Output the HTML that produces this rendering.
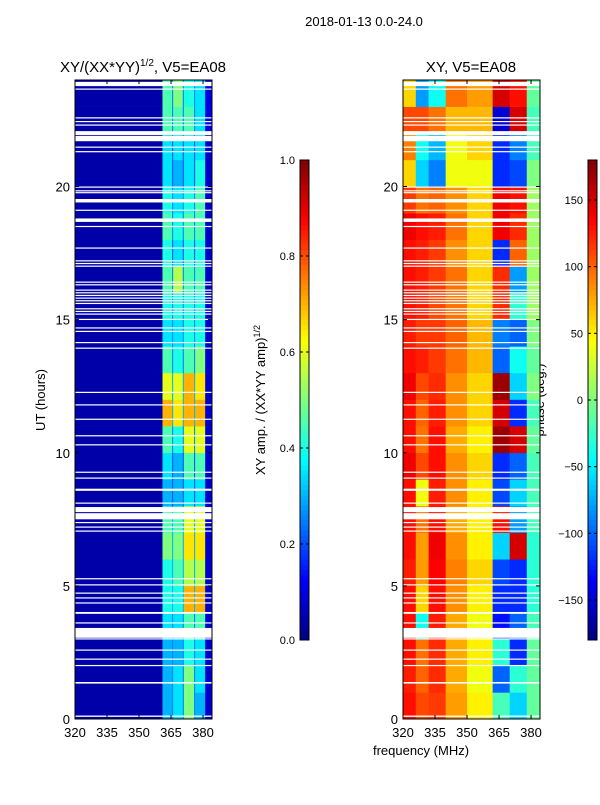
<!DOCTYPE html>
<html><head><meta charset="utf-8"><style>
body{margin:0;background:#fff}
svg text{font-family:"Liberation Sans","DejaVu Sans",sans-serif;fill:#000}
</style></head><body>
<svg id="fig" width="600" height="800" viewBox="0 0 600 800" xmlns="http://www.w3.org/2000/svg">
<text x="364" y="26" font-size="13" text-anchor="middle">2018-01-13 0.0-24.0</text>
<text x="143" y="72" font-size="15" text-anchor="middle">XY/(XX*YY)<tspan font-size="10" dy="-6">1/2</tspan><tspan dy="6">, V5=EA08</tspan></text>
<text x="471" y="72" font-size="15" text-anchor="middle">XY, V5=EA08</text>
<text transform="translate(45,400) rotate(-90)" font-size="13" text-anchor="middle">UT (hours)</text>
<text transform="translate(265,400) rotate(-90)" font-size="13" text-anchor="middle">XY amp. / (XX*YY amp)<tspan font-size="9" dy="-5">1/2</tspan></text>
<text transform="translate(544,400) rotate(-90)" font-size="13" text-anchor="middle">phase (deg.)</text>
<text x="421" y="755" font-size="13" text-anchor="middle">frequency (MHz)</text>
<g id="g"></g>
</svg>
<script>
// ---- data ----
const hours = [0,1,2,3,4,5,6,7,8,9,10,11,12,13,14,15,16,17,18,19,20,21,22,23];
const ampFreqEdges = [320,361,365.5,366,370.5,371,375.8,376.3,381,384.2];
const ampRows = [
[.04,.3,.25,.35,.25,.5,.25,.3,.08],
[.04,.3,.25,.35,.25,.5,.25,.35,.08],
[.04,.3,.25,.3,.25,.4,.25,.35,.08],
[.04,.35,.25,.35,.25,.45,.25,.45,.08],
[.04,.4,.3,.4,.3,.7,.3,.7,.08],
[.04,.4,.3,.45,.3,.55,.3,.55,.08],
[.04,.5,.3,.5,.3,.65,.3,.65,.08],
[.04,.45,.3,.45,.3,.6,.3,.6,.08],
[.04,.3,.2,.3,.2,.35,.2,.35,.08],
[.04,.35,.2,.3,.2,.45,.2,.45,.08],
[.04,.45,.25,.4,.25,.6,.25,.6,.08],
[.04,.7,.3,.65,.3,.7,.3,.7,.08],
[.04,.6,.3,.6,.3,.7,.3,.65,.08],
[.04,.45,.25,.4,.25,.45,.25,.5,.08],
[.04,.35,.25,.35,.25,.4,.25,.4,.08],
[.04,.4,.25,.4,.25,.4,.25,.4,.08],
[.04,.45,.25,.55,.25,.45,.25,.45,.08],
[.04,.4,.2,.35,.2,.4,.2,.4,.08],
[.04,.45,.25,.4,.25,.45,.25,.45,.08],
[.04,.4,.25,.35,.25,.4,.25,.45,.08],
[.04,.35,.2,.3,.2,.35,.2,.4,.08],
[.04,.35,.2,.35,.2,.35,.2,.35,.08],
[.04,.45,.25,.45,.25,.45,.25,.35,.1],
[.04,.45,.25,.5,.25,.4,.25,.35,.1]];
const phaseFreqEdges = [320,326,332,340,350,362,370,378,384.2];
const phaseRows = [
[130,110,115,80,50,-20,-60,-10],
[125,100,120,75,40,-100,-30,-10],
[130,95,120,75,50,-30,-120,-10],
[130,-40,125,75,40,-130,-100,-20],
[130,60,130,85,50,-120,-120,-30],
[125,80,135,90,60,-110,-120,-30],
[130,80,140,85,50,-60,150,-30],
[130,95,130,75,50,130,-80,-20],
[130,40,125,85,50,-110,-60,-20],
[140,110,130,85,60,-120,-100,-20],
[130,95,130,75,50,170,150,-10],
[130,100,125,85,60,150,-120,-20],
[140,110,120,85,60,170,-60,0],
[130,125,115,95,70,-100,-40,-10],
[125,115,115,100,70,-90,-100,0],
[130,125,110,95,60,120,-30,10],
[130,125,115,95,60,120,-80,10],
[130,125,115,85,60,-120,100,10],
[140,130,125,95,60,140,120,10],
[115,95,100,85,60,140,130,10],
[60,-60,-90,40,40,-120,-110,0],
[90,-40,-70,40,60,-120,-90,-20],
[110,110,95,70,70,-150,150,-20],
[60,-80,-40,95,80,150,130,-10]];
const flagged = [[0.08,0.13],[1.33,1.39],[2.0,2.03],[2.24,2.27],[2.58,2.61],[3.0,3.03],[3.05,3.42],[3.6,3.63],[3.95,4.02],[4.35,4.38],[4.54,4.57],[4.72,4.75],[5.03,5.06],[5.26,5.29],[7.05,7.08],[7.2,7.23],[7.37,7.4],[7.5,7.73],[7.77,7.96],[8.1,8.13],[8.57,8.65],[9.04,9.07],[9.26,9.29],[10.29,10.32],[10.63,10.66],[11.25,11.28],[11.79,11.82],[12.26,12.29],[13.92,13.95],[14.13,14.16],[14.55,14.58],[14.68,14.71],[15.0,15.03],[15.2,15.23],[15.3,15.33],[15.4,15.43],[15.6,15.63],[15.7,15.73],[15.8,15.83],[15.9,15.93],[16.0,16.03],[16.1,16.13],[16.3,16.33],[16.4,16.43],[17.0,17.03],[17.1,17.13],[17.2,17.23],[17.68,17.71],[18.49,18.52],[18.67,18.8],[19.1,19.13],[19.4,19.53],[19.76,19.79],[19.83,19.86],[19.97,20.0],[21.3,21.33],[21.47,21.5],[21.7,21.9],[21.93,22.08],[22.3,22.33],[22.43,22.46],[22.57,22.6],[23.65,23.68],[23.77,23.93]];
const xTicks = [320,335,350,365,380];
const yTicks = [0,5,10,15,20];
const ampTicks = [0.0,0.2,0.4,0.6,0.8,1.0];
const phaseTicks = [-150,-100,-50,0,50,100,150];

// ---- helpers ----
const NS="http://www.w3.org/2000/svg";
const G=document.getElementById('g');
function el(t,a,p){const e=document.createElementNS(NS,t);for(const k in a)e.setAttribute(k,a[k]);(p||G).appendChild(e);return e;}
function cl(v){return Math.max(0,Math.min(1,v));}
function jet(x){x=cl(x);const r=cl(1.5-Math.abs(4*x-3)),g=cl(1.5-Math.abs(4*x-2)),b=cl(1.5-Math.abs(4*x-1));return `rgb(${Math.round(r*255)},${Math.round(g*255)},${Math.round(b*255)})`;}
const yTop=80,yBot=719;
function yS(h){return yBot-(h/24)*(yBot-yTop);}
function xS(x0){return f=>x0+(f-320)*(137/64.2);}
const panels=[{x0:75,edges:ampFreqEdges,rows:ampRows,norm:v=>v,name:'amp'},{x0:403,edges:phaseFreqEdges,rows:phaseRows,norm:v=>(v+180)/360,name:'phase'}];
panels.forEach(p=>{
  const xs=xS(p.x0);
  const grp=el('g',{});
  
  
  hours.forEach((h,i)=>{
    p.rows[i].forEach((v,j)=>{
      const x1=xs(p.edges[j]),x2=xs(p.edges[j+1]);
      const r=el('rect',{x:x1,y:yS(h+1),width:x2-x1+0.3,height:yS(h)-yS(h+1)+0.3,fill:jet(p.norm(v))},grp);
      
      
    });
  });
  flagged.forEach(fl=>{
    const r=el('rect',{x:p.x0,y:yS(fl[1]),width:137,height:Math.max(1.2,yS(fl[0])-yS(fl[1])),fill:'#fff'},grp);
    
    
  });
  const fr=el('rect',{x:p.x0,y:yTop,width:137,height:yBot-yTop,fill:'none',stroke:'#000','stroke-width':1});
  
  
  xTicks.forEach(t=>{
    const x=xs(t);
    el('line',{x1:x,x2:x,y1:yBot,y2:yBot-4,stroke:'#000'});
    el('line',{x1:x,x2:x,y1:yTop,y2:yTop+4,stroke:'#000'});
    const tx=el('text',{x:x,y:737,'font-size':13,'text-anchor':'middle'});
    tx.textContent=t;
    
    
  });
  yTicks.forEach(t=>{
    const y=yS(t);
    el('line',{x1:p.x0,x2:p.x0+4,y1:y,y2:y,stroke:'#000'});
    el('line',{x1:p.x0+137,x2:p.x0+133,y1:y,y2:y,stroke:'#000'});
    const tx=el('text',{x:p.x0-5,y:y+5,'font-size':13,'text-anchor':'end'});
    tx.textContent=t;
    
    
  });
});
// colorbars
const cbs=[{x:300,ticks:ampTicks,lo:0,hi:1,name:'amp-colorbar',fmt:v=>v.toFixed(1)},{x:588,ticks:phaseTicks,lo:-180,hi:180,name:'phase-colorbar',fmt:v=>v<0?'\u2212'+(-v):''+v}];
const cbTop=160,cbBot=640;
cbs.forEach(c=>{
  const grp=el('g',{});
  
  
  const n=96;
  for(let i=0;i<n;i++){
    const y=cbBot-(i+1)*(cbBot-cbTop)/n;
    el('rect',{x:c.x,y:y,width:9,height:(cbBot-cbTop)/n+0.4,fill:jet((i+0.5)/n)},grp);
  }
  el('rect',{x:c.x,y:cbTop,width:9,height:cbBot-cbTop,fill:'none',stroke:'#000'},grp);
  c.ticks.forEach(t=>{
    const y=cbBot-(t-c.lo)/(c.hi-c.lo)*(cbBot-cbTop);
    el('line',{x1:c.x,x2:c.x+3,y1:y,y2:y,stroke:'#000'},grp);
    el('line',{x1:c.x+9,x2:c.x+6,y1:y,y2:y,stroke:'#000'},grp);
    const tx=el('text',{x:c.x-5,y:y+4,'font-size':11,'text-anchor':'end'},grp);
    tx.textContent=c.fmt(t);
    
    
  });
});
</script>
</body></html>
